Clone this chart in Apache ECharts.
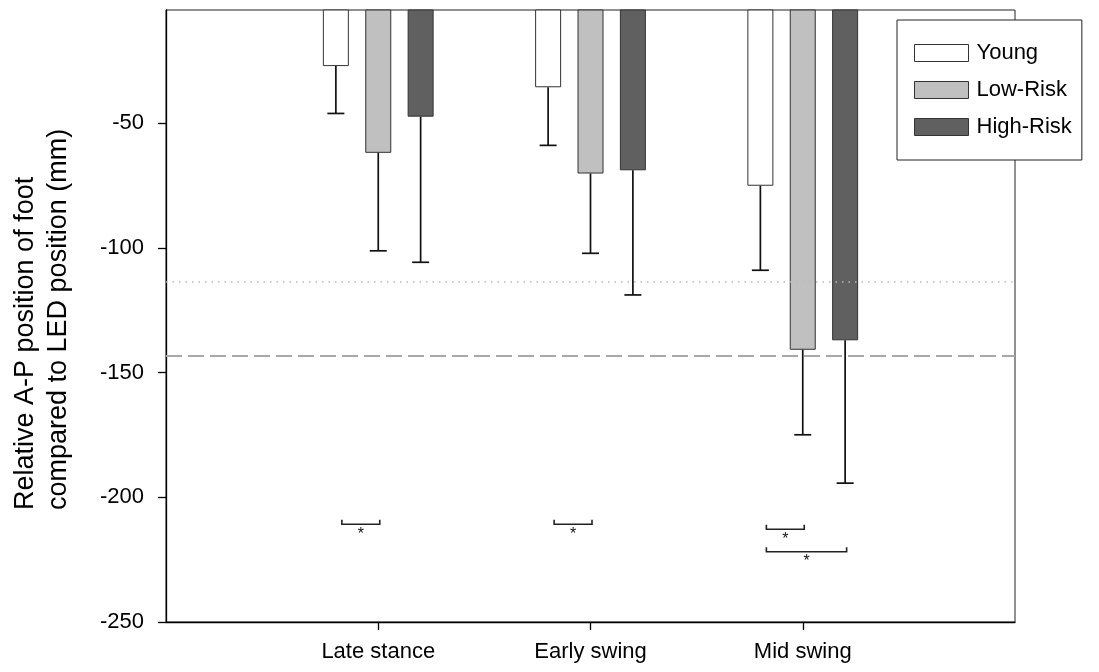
<!DOCTYPE html>
<html>
<head>
<meta charset="utf-8">
<script src="https://cdn.jsdelivr.net/npm/echarts@6/dist/echarts.min.js"></script>
<style>
  html, body { margin: 0; padding: 0; background: #fff; }
  #chart { width: 1099px; height: 672px; }
</style>
</head>
<body>
<div id="chart"></div>
<script>
// Gait phases and subject groups
const categories = ['Late stance', 'Early swing', 'Mid swing'];
const groups = ['Young', 'Low-Risk', 'High-Risk'];

// Mean relative A-P foot position (mm) and standard deviation per group
const youngMean = [-27.0, -35.5, -75.0];
const youngSD = [19.0, 23.3, 33.9];
const lowMean = [-61.8, -70.1, -140.8];
const lowSD = [39.3, 32.0, 34.1];
const highMean = [-47.3, -68.8, -137.0];
const highSD = [58.4, 50.0, 57.3];

// Horizontal reference levels (mm)
const refDotted = -113.7;
const refDashed = -143.2;

// Y axis tick values
const yTicks = [-250, -200, -150, -100, -50];

// Significance brackets: phase index, from group, to group, level (mm)
const bracketPhase = [0, 1, 2, 2];
const bracketFrom = [0, 0, 0, 0];
const bracketTo = [1, 1, 1, 2];
const bracketLevel = [-210.8, -210.8, -212.8, -221.8];

const FONT = "'Liberation Sans', Arial, sans-serif";
const BAR_W = 26;
const BAR_GAP_PCT = 63;
const BAR_STEP = BAR_W * (1 + BAR_GAP_PCT / 100);

// Padding slots on both ends so the phases sit at inner ticks
const axisCats = [''].concat(categories, [' ']);

const means = [youngMean, lowMean, highMean];
const sds = [youngSD, lowSD, highSD];
const fills = ['#ffffff', '#c0c0c0', '#606060'];

const barSeries = groups.map((name, g) => ({
  name: name,
  type: 'bar',
  barWidth: BAR_W,
  barGap: BAR_GAP_PCT + '%',
  itemStyle: { color: fills[g], borderColor: '#333', borderWidth: 1 },
  data: means[g].map((v, i) => [i + 1, v]),
  z: 2
}));

// Reference lines
barSeries[0].markLine = {
  silent: true,
  symbol: 'none',
  label: { show: false },
  data: [
    { yAxis: refDotted, lineStyle: { type: [1.5, 5], color: '#b8b8b8', width: 1.5 } },
    { yAxis: refDashed, lineStyle: { type: [16, 6], color: '#a8a8a8', width: 2 } }
  ]
};

// One-sided (downward) error bars
const errData = [];
groups.forEach((name, g) => {
  means[g].forEach((m, i) => errData.push([i + 1, m, sds[g][i], g]));
});

const errSeries = {
  type: 'custom',
  name: 'err',
  z: 3,
  encode: { x: 0, y: 1 },
  data: errData,
  renderItem: function (params, api) {
    const x = api.value(0), m = api.value(1), sd = api.value(2), g = api.value(3);
    const top = api.coord([x, m]);
    const bot = api.coord([x, m - sd]);
    const cx = top[0] + (g - 1) * BAR_STEP;
    const st = { stroke: '#111', lineWidth: 1.7 };
    return {
      type: 'group',
      children: [
        { type: 'line', shape: { x1: cx, y1: top[1], x2: cx, y2: bot[1] }, style: st },
        { type: 'line', shape: { x1: cx - 8.5, y1: bot[1], x2: cx + 8.5, y2: bot[1] }, style: st }
      ]
    };
  }
};

const bracketData = bracketPhase.map((p, i) => [p + 1, bracketFrom[i], bracketTo[i], bracketLevel[i]]);

const bracketSeries = {
  type: 'custom',
  name: 'sig',
  z: 3,
  encode: { x: 0, y: 3 },
  data: bracketData,
  renderItem: function (params, api) {
    const x = api.value(0), f = api.value(1), t = api.value(2), lv = api.value(3);
    const p = api.coord([x, lv]);
    const x1 = p[0] + (f - 1) * BAR_STEP + 6;
    const x2 = p[0] + (t - 1) * BAR_STEP + 1.5;
    const y = p[1];
    return {
      type: 'group',
      children: [
        {
          type: 'polyline',
          shape: { points: [[x1, y - 4.5], [x1, y], [x2, y], [x2, y - 4.5]] },
          style: { stroke: '#222', lineWidth: 1.6, fill: null }
        },
        {
          type: 'text',
          x: (x1 + x2) / 2,
          y: y + 2,
          style: { text: '*', font: '16px ' + FONT, fill: '#111', align: 'center', verticalAlign: 'top' }
        }
      ]
    };
  }
};

const chart = echarts.init(document.getElementById('chart'), null, { renderer: 'canvas' });

chart.setOption({
  animation: false,
  backgroundColor: '#ffffff',
  textStyle: { fontFamily: FONT },
  grid: {
    left: 166, right: 84, top: 10, bottom: 50,
    show: true, borderColor: '#222', borderWidth: 1, backgroundColor: 'transparent'
  },
  legend: {
    data: groups.map(n => ({ name: n, icon: 'rect' })),
    orient: 'vertical',
    left: 897,
    top: 20,
    padding: [22, 10, 22, 17],
    itemWidth: 54,
    itemHeight: 17,
    itemGap: 15,
    backgroundColor: '#ffffff',
    borderColor: '#222',
    borderWidth: 1,
    borderRadius: 0,
    textStyle: { fontSize: 22, color: '#000', lineHeight: 17, padding: [0, 0, 0, 3] },
    itemStyle: { borderColor: '#333', borderWidth: 1 }
  },
  xAxis: {
    type: 'category',
    data: axisCats,
    boundaryGap: false,
    axisLine: { lineStyle: { color: '#000', width: 1.3 } },
    axisTick: {
      length: 8,
      interval: function (i) { return i > 0 && i < axisCats.length - 1; },
      lineStyle: { color: '#000', width: 1.3 }
    },
    axisLabel: {
      fontSize: 22, color: '#000', margin: 19,
      interval: function (i) { return i > 0 && i < axisCats.length - 1; }
    },
    splitLine: { show: false }
  },
  yAxis: {
    type: 'value',
    min: -250,
    max: -4.5,
    interval: 50,
    axisLine: { show: true, lineStyle: { color: '#000', width: 1.3 } },
    axisTick: { show: true, length: 8, customValues: yTicks, lineStyle: { color: '#000', width: 1.3 } },
    axisLabel: { fontSize: 22, color: '#000', margin: 22, customValues: yTicks },
    splitLine: { show: false }
  },
  graphic: [
    {
      type: 'text',
      x: 9,
      y: 510,
      rotation: Math.PI / 2,
      style: {
        text: 'Relative A-P position of foot\ncompared to LED position (mm)',
        font: '27px ' + FONT,
        fill: '#000',
        align: 'left',
        verticalAlign: 'top',
        lineHeight: 33
      }
    }
  ],
  series: barSeries.concat([errSeries, bracketSeries])
});
</script>
</body>
</html>
